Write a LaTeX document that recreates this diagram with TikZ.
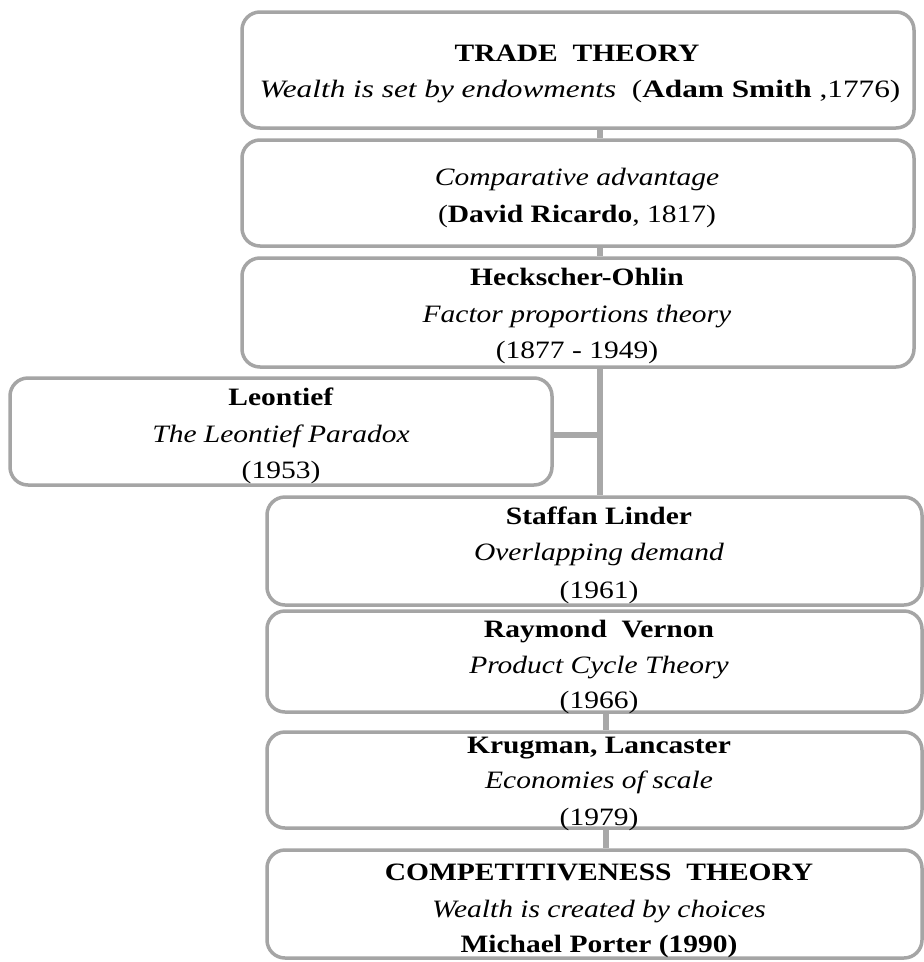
\documentclass[tikz,border=0pt]{standalone}
\usepackage{graphicx}
\usepackage{fontspec}
\setmainfont{Liberation Serif}[FakeStretch=1.18]
\definecolor{framegray}{RGB}{165,165,165}
\definecolor{linkgray}{RGB}{168,168,168}
\tikzset{
  stage/.style={rectangle, draw=framegray, line width=3.5pt, rounded corners=18pt,
                inner sep=0pt, fill=white},
  link/.style={draw=linkgray, line width=6pt},
  ln/.style={anchor=base, inner sep=0pt, font=\fontsize{25}{30}\selectfont},
}
\begin{document}
\begin{tikzpicture}[x=1pt,y=-1pt]
\useasboundingbox (0,0) rectangle (924,962);
\clip (0,0) rectangle (924,962);

% spines of the timeline
\coordinate (spine) at (600,0);
\coordinate (spinelow) at (606,0);

% stage boxes
\node[stage, minimum width=672pt, minimum height=116pt] (b1) at (578,70) {};
\node[stage, minimum width=672pt, minimum height=106pt] (b2) at (578,193) {};
\node[stage, minimum width=672pt, minimum height=109pt] (b3) at (578,312.5) {};
\node[stage, minimum width=542pt, minimum height=107pt] (bl) at (281,431.5) {};
\node[stage, minimum width=655pt, minimum height=108pt] (b4) at (594.5,551) {};
\node[stage, minimum width=655pt, minimum height=101pt] (b5) at (594.5,661.5) {};
\node[stage, minimum width=655pt, minimum height=96pt]  (b6) at (594.5,780) {};
\node[stage, minimum width=655pt, minimum height=108pt] (b7) at (594.5,904) {};

% connectors
\draw[link] (b1.south -| spine) -- (b2.north -| spine);
\draw[link] (b2.south -| spine) -- (b3.north -| spine);
\draw[link] (b3.south -| spine) -- (b4.north -| spine);
\coordinate (join) at (bl.east |- 0,435);
\draw[link] (join) -- (join -| spine);
\draw[link] (b5.south -| spinelow) -- (b6.north -| spinelow);
\draw[link] (b6.south -| spinelow) -- (b7.north -| spinelow);

% texts
\node[ln] (t1a) at (577,61) {\textbf{TRADE\ \ THEORY}};
\node[ln] (t1b) at (580,97) {\scalebox{1.06}[1]{\textit{Wealth is set by endowments}\ \ (\textbf{Adam Smith} ,1776)}};

\node[ln] (t2a) at (577,185) {\textit{Comparative advantage}};
\node[ln] (t2b) at (577,222) {(\textbf{David Ricardo}, 1817)};

\node[ln] (t3a) at (577,285) {\textbf{Heckscher-Ohlin}};
\node[ln] (t3b) at (577,322) {\textit{Factor proportions theory}};
\node[ln] (t3c) at (577,358) {(1877 - 1949)};

\node[ln] (tla) at (281,405) {\textbf{Leontief}};
\node[ln] (tlb) at (281,442) {\textit{The Leontief Paradox}};
\node[ln] (tlc) at (281,478) {(1953)};

\node[ln] (t4a) at (599,524) {\textbf{Staffan Linder}};
\node[ln] (t4b) at (599,560) {\textit{Overlapping demand}};
\node[ln] (t4c) at (599,598) {(1961)};

\node[ln] (t5a) at (599,637) {\textbf{Raymond\ \ Vernon}};
\node[ln] (t5b) at (599,673) {\textit{Product Cycle Theory}};
\node[ln] (t5c) at (599,708) {(1966)};

\node[ln] (t6a) at (599,753) {\textbf{Krugman, Lancaster}};
\node[ln] (t6b) at (599,788) {\textit{Economies of scale}};
\node[ln] (t6c) at (599,825) {(1979)};

\node[ln] (t7a) at (599,880) {\textbf{COMPETITIVENESS\ \ THEORY}};
\node[ln] (t7b) at (599,917) {\textit{Wealth is created by choices}};
\node[ln] (t7c) at (599,952) {\textbf{Michael Porter (1990)}};
\end{tikzpicture}
\end{document}
